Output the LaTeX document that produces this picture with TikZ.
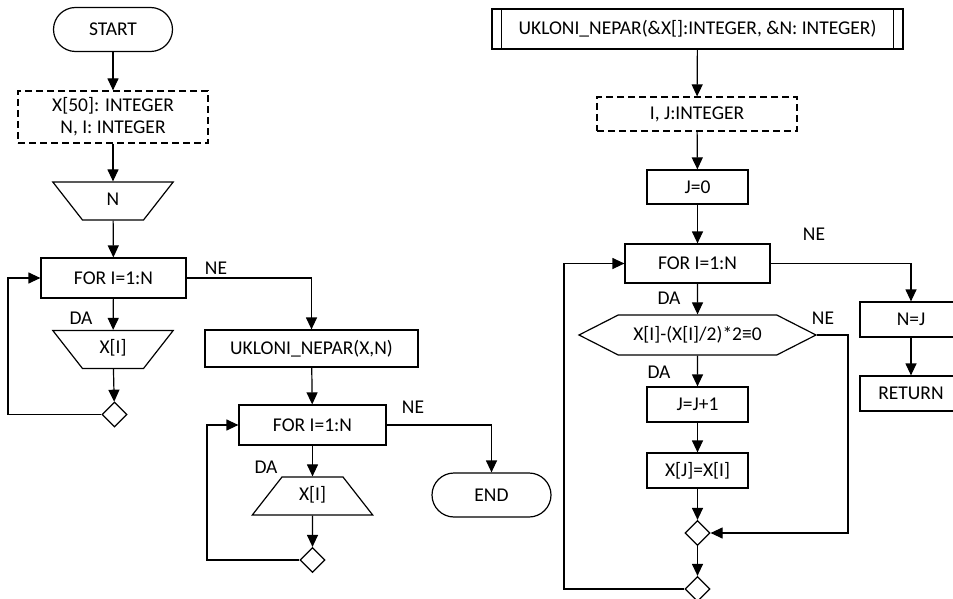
\documentclass[tikz,border=0pt]{standalone}
\usepackage{fontspec}
\setmainfont{Carlito}
\usetikzlibrary{shapes.geometric,shapes.symbols,arrows.meta}

\tikzset{
  base/.style={draw, line width=1.2pt, inner sep=1pt, align=center,
    font=\fontsize{19.5}{22}\selectfont},
  stepbox/.style={base, rectangle},
  term/.style={base, rectangle, rounded corners=22pt,
    minimum width=119pt, minimum height=44pt},
  declbox/.style={base, rectangle, dash pattern=on 7pt off 4pt},
  iobox/.style={base, trapezium, trapezium left angle=52, trapezium right angle=52,
    inner xsep=0pt, inner ysep=10pt, text width=61pt, text height=13pt, text depth=5pt},
  inbox/.style={iobox, shape border rotate=180},
  outbox/.style={iobox},
  testbox/.style={base, signal, signal to=east and west,
    signal pointer angle=54, minimum width=237pt, minimum height=40pt},
  mergept/.style={draw, line width=1.2pt, diamond, inner sep=0pt,
    minimum size=25pt},
  subbox/.style={stepbox, append after command={
    (\tikzlastnode.north west) ++(10pt,0) edge[line width=1.2pt]
      ([xshift=10pt]\tikzlastnode.south west)
    (\tikzlastnode.north east) ++(-10pt,0) edge[line width=1.2pt]
      ([xshift=-10pt]\tikzlastnode.south east)}},
  lbl/.style={font=\fontsize{19.5}{22}\selectfont, inner sep=0pt},
  arr/.style={line width=1.2pt, -{Triangle[width=11pt,length=12pt]}},
}

\begin{document}
\begin{tikzpicture}[x=1pt, y=-1pt]
  \useasboundingbox (0,0) rectangle (953,599);
  %.
  % main program
  \node[term] (start) at (113,29.5) {START};
  \node[declbox, minimum width=190pt, minimum height=52pt] (decl1) at (113,117)
    {X[50]: INTEGER\\N, I: INTEGER};
  \node[inbox] (inN) at (113,201) {N};
  \node[stepbox, minimum width=145pt, minimum height=40pt] (for1) at (113.5,278) {FOR I=1:N};
  \node[inbox] (inX) at (113,349.5) {X[I]};
  \node[mergept] (merge1) at (114.5,414.5) {};
  \coordinate (loop1) at (8,414.5);
  \node[stepbox, minimum width=213pt, minimum height=37pt] (call) at (311.5,348.5) {UKLONI\_NEPAR(X,N)};
  \node[stepbox, minimum width=147pt, minimum height=40pt] (for2) at (312.5,425) {FOR I=1:N};
  \node[outbox] (outX) at (312.5,496) {X[I]};
  \node[mergept] (merge2) at (312.5,560) {};
  \coordinate (loop2) at (207,560);
  \node[term] (stop) at (491.5,495) {END};
  %.
  \node[lbl] at (216,268) {NE};
  \node[lbl] at (81,318) {DA};
  \node[lbl] at (413,407) {NE};
  \node[lbl] at (266,467) {DA};
  %.
  \draw[arr] (start) -- (decl1);
  \draw[arr] (decl1) -- (inN);
  \draw[arr] (inN) -- (for1);
  \draw[arr] (for1) -- (inX);
  \draw[arr] (inX) -- (merge1);
  \draw[arr] (merge1.west) -- (loop1) |- (for1.west);
  \draw[arr] (for1.east) -| (call.north);
  \draw[arr] (call) -- (for2);
  \draw[arr] (for2) -- (outX);
  \draw[arr] (outX) -- (merge2);
  \draw[arr] (merge2.west) -- (loop2) |- (for2.west);
  \draw[arr] (for2.east) -| (stop.north);
  %.
  % subroutine
  \node[subbox, minimum width=411pt, minimum height=40pt] (sub) at (697.5,29)
    {UKLONI\_NEPAR(\&X[]:INTEGER, \&N: INTEGER)};
  \node[declbox, minimum width=200pt, minimum height=34pt] (decl2) at (697,114) {I, J:INTEGER};
  \node[stepbox, minimum width=101pt, minimum height=34pt] (jinit) at (697.5,187) {J=0};
  \node[stepbox, minimum width=145pt, minimum height=39pt] (for3) at (697.5,263.5) {FOR I=1:N};
  \node[testbox] (test) at (697.5,335) {X[I]-(X[I]/2)*2≡0};
  \node[stepbox, minimum width=101pt, minimum height=35pt] (inc) at (697.5,404.5) {J=J+1};
  \node[stepbox, minimum width=101pt, minimum height=35pt] (copy) at (697.5,470.5) {X[J]=X[I]};
  \node[mergept] (merge3) at (697.5,533) {};
  \node[mergept] (merge4) at (697.5,589) {};
  \coordinate (skip) at (848,335);
  \coordinate (loop3) at (564,589);
  \node[stepbox, minimum width=102pt, minimum height=35pt] (setN) at (911,319.5) {N=J};
  \node[stepbox, minimum width=102pt, minimum height=35pt] (ret) at (911,393.5) {RETURN};
  %.
  \node[lbl] at (814,234) {NE};
  \node[lbl] at (669,298) {DA};
  \node[lbl] at (823,318) {NE};
  \node[lbl] at (659,372) {DA};
  %.
  \draw[arr] (sub) -- (decl2);
  \draw[arr] (decl2) -- (jinit);
  \draw[arr] (jinit) -- (for3);
  \draw[arr] (for3) -- (test);
  \draw[arr] (test) -- (inc);
  \draw[arr] (inc) -- (copy);
  \draw[arr] (copy) -- (merge3);
  \draw[arr] (test.east) -- (skip) |- (merge3.east);
  \draw[arr] (merge3) -- (merge4);
  \draw[arr] (merge4.west) -- (loop3) |- (for3.west);
  \draw[arr] (for3.east) -| (setN.north);
  \draw[arr] (setN) -- (ret);
  %.
\end{tikzpicture}
\end{document}
